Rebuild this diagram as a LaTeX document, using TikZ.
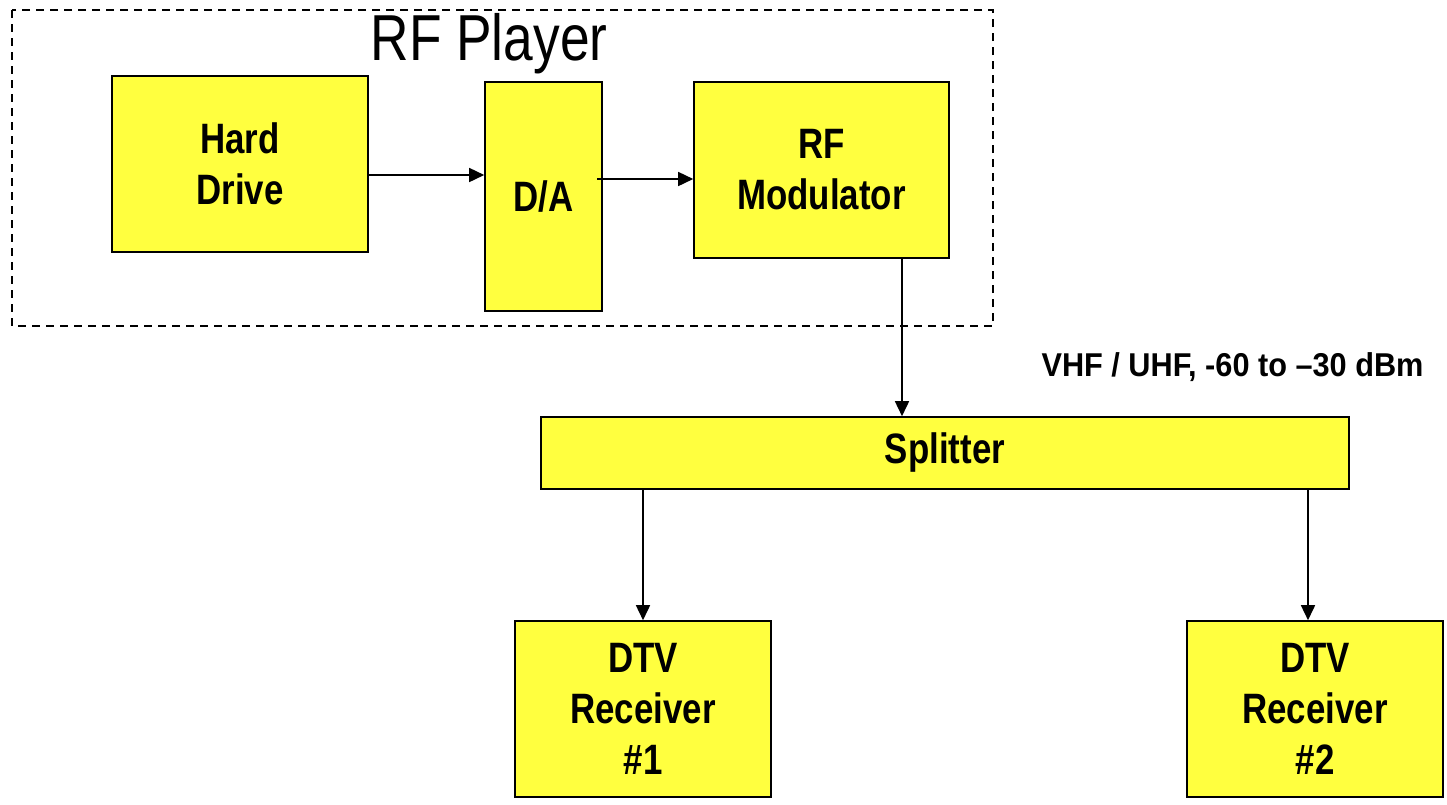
\documentclass[tikz,border=0pt]{standalone}
\usepackage{fontspec}
\setmainfont[FakeStretch=0.82]{Liberation Sans}
\newfontfamily\labelfont[FakeStretch=0.93]{Liberation Sans}
\usetikzlibrary{arrows.meta}
\definecolor{boxyellow}{HTML}{FFFF3F}
\tikzset{
  block/.style={draw=black, line width=1.6pt, fill=boxyellow, align=center,
    inner sep=0pt, font=\fontsize{42.5}{51}\selectfont\bfseries},
  link/.style={line width=1.6pt, -{Triangle[length=15pt,width=14pt]}},
  frame/.style={draw=black, line width=1.4pt, dash pattern=on 8pt off 6pt}
}
\begin{document}
\begin{tikzpicture}[x=1pt,y=-1pt]
\useasboundingbox (0,0) rectangle (1447,804);
% enclosure of the player
\draw[frame] (12,10) rectangle (993,326);
\node[font=\fontsize{65}{72}\selectfont] (title) at (489,44) {RF Player};
% blocks
\node[block, minimum width=256pt, minimum height=176pt] (hd) at (240,164) {Hard\\Drive};
\node[block, minimum width=117pt, minimum height=229pt] (da) at (543.5,196.5) {D/A};
\node[block, minimum width=255pt, minimum height=176pt] (rfm) at (821.5,170) {RF\\Modulator};
\node[block, minimum width=808pt, minimum height=72pt] (spl) at (945,453) {Splitter};
\node[block, minimum width=256pt, minimum height=176pt] (rx1) at (643,709) {DTV\\Receiver\\\#1};
\node[block, minimum width=256pt, minimum height=176pt] (rx2) at (1315,709) {DTV\\Receiver\\\#2};
% signal label
\node[anchor=west, font=\labelfont\fontsize{33}{38}\selectfont\bfseries] (lbl) at (1038,367) {VHF / UHF, -60 to –30 dBm};
% connections
\coordinate (hdout) at (368,175);
\coordinate (daout) at (597,179);
\coordinate (rfout) at (902,258);
\coordinate (tap1) at (643,489);
\coordinate (tap2) at (1308,489);
\draw[link] (hdout) -- (da.west |- hdout);
\draw[link] (daout) -- (rfm.west |- daout);
\draw[link] (rfout) -- (spl.north -| rfout);
\draw[link] (tap1) -- (rx1.north -| tap1);
\draw[link] (tap2) -- (rx2.north -| tap2);
\end{tikzpicture}
\end{document}
